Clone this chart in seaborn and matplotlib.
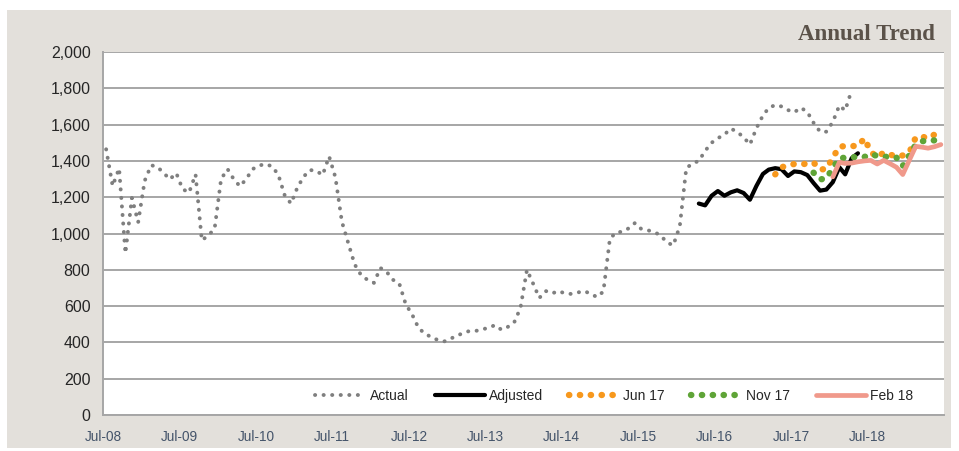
import numpy as np
import pandas as pd
import matplotlib
matplotlib.use("Agg")
import matplotlib.pyplot as plt
from matplotlib.patches import Rectangle
import seaborn as sns

# monthly values, first point is Jul-08 (plotted mid-month)
actual = [1464, 1262, 1359, 891, 1196, 1062, 1290, 1376, 1368, 1335, 1298, 1333,
          1245, 1225, 1326, 962, 990, 1025, 1300, 1355, 1302, 1260, 1300, 1355,
          1374, 1383, 1370, 1325, 1210, 1165, 1255, 1315, 1350, 1345, 1322, 1425,
          1310, 1065, 945, 830, 770, 745, 728, 810, 790, 745, 725, 610,
          555, 480, 447, 430, 413, 405, 420, 438, 450, 463, 463, 472,
          480, 495, 470, 485, 510, 590, 800, 720, 645, 683, 670, 683,
          670, 667, 675, 683, 668, 650, 680, 970, 1005, 1010, 1028, 1058,
          1025, 1018, 1008, 990, 950, 935, 1040, 1360, 1385, 1400, 1455, 1500,
          1525, 1545, 1578, 1560, 1530, 1490, 1580, 1650, 1692, 1708, 1700, 1680,
          1668, 1693, 1670, 1610, 1561, 1561, 1615, 1705, 1678, 1790]
adjusted = [1165, 1155, 1208, 1234, 1208, 1227, 1238, 1223, 1186, 1262, 1328, 1352,
            1360, 1354, 1317, 1342, 1338, 1322, 1278, 1236, 1242, 1283, 1365, 1326,
            1415, 1442]
jun17 = [1326, 1365, 1375, 1383, 1381, 1385, 1391, 1352, 1356, 1418, 1478, 1482,
         1482, 1482, 1524, 1450, 1420, 1446, 1435, 1424, 1430, 1445, 1530, 1535,
         1524, 1545, 1555]
nov17 = [1335, 1298, 1303, 1360, 1414, 1418, 1421, 1420, 1422, 1436, 1428, 1424,
         1420, 1418, 1372, 1430, 1490, 1508, 1512, 1513, 1506]
feb18 = [1312, 1392, 1386, 1388, 1395, 1400, 1403, 1383, 1403, 1385, 1365, 1325,
         1403, 1480, 1476, 1470, 1478, 1490]

start_adjusted = 93
start_jun17 = 105
start_nov17 = 111
start_feb18 = 114

year_ticks = list(range(2008, 2020))
tick_labels = [f"Jul-{y % 100:02d}" for y in range(2008, 2019)] + [""]


def month_dates(first, n):
    d = pd.date_range("2008-07-01", periods=first + n, freq="MS")[first:]
    return d + pd.Timedelta(days=15)


sns.set_style("white")
plt.rcParams["font.family"] = ["Liberation Sans", "DejaVu Sans"]

fig = plt.figure(figsize=(9.59, 4.51), dpi=100, facecolor="white")
# grey panel behind the chart
fig.patches.append(Rectangle((7 / 959, 0.006), 944 / 959, 1 - 10 / 451 - 0.006,
                             transform=fig.transFigure, facecolor="#e3e0db",
                             edgecolor="none", zorder=-10))
ax = fig.add_axes([103 / 959, 1 - 415 / 451, 841 / 959, 363 / 451])
ax.set_zorder(1)
ax.set_facecolor("white")

series = [
    ("Actual", actual, 0, dict(color="#7f7f7f", linewidth=2.8,
                                linestyle=(0, (0.05, 2.15)), dash_capstyle="round")),
    ("Adjusted", adjusted, start_adjusted, dict(color="black", linewidth=3.0)),
    ("Jun 17", jun17, start_jun17, dict(color="#f7981d", linewidth=4.6,
                                        linestyle=(0, (0.05, 1.65)), dash_capstyle="round")),
    ("Nov 17", nov17, start_nov17, dict(color="#5fa437", linewidth=4.6,
                                        linestyle=(0, (0.05, 1.65)), dash_capstyle="round")),
    ("Feb 18", feb18, start_feb18, dict(color="#f0998b", linewidth=3.4)),
]

for name, vals, first, style in series:
    df = pd.DataFrame({"date": month_dates(first, len(vals)), "value": vals})
    sns.lineplot(data=df, x="date", y="value", ax=ax, label=name, **style)

ax.set_ylim(0, 2000)
ax.set_yticks(np.arange(0, 2001, 200))
ax.set_yticklabels([f"{v:,}" for v in range(0, 2001, 200)], fontsize=11.5, color="#262626")
ax.set_xlim(pd.Timestamp("2008-07-01"), pd.Timestamp("2019-07-01"))
ax.set_xticks([pd.Timestamp(f"{y}-07-01") for y in year_ticks])
ax.set_xticklabels(tick_labels, fontsize=9.8, color="#44546a")
ax.set_xlabel("")
ax.set_ylabel("")

ax.grid(axis="y", color="#a6a6a6", linewidth=1.4)
ax.grid(axis="x", visible=False)
ax.set_axisbelow(True)
for side in ["top", "right"]:
    ax.spines[side].set_visible(False)
for side in ["left", "bottom"]:
    ax.spines[side].set_color("#a6a6a6")
    ax.spines[side].set_linewidth(1.4)
ax.tick_params(axis="both", which="major", direction="out", length=5,
               color="#a6a6a6", width=1.2, pad=4)
ax.tick_params(axis="x", pad=6)

handles, labels = ax.get_legend_handles_labels()
ax.legend(handles, labels, loc="center", bbox_to_anchor=(0.608, 0.052), ncol=5,
          frameon=False, fontsize=10, handlelength=3.6, handletextpad=0.3,
          columnspacing=1.9)

fig.text(935 / 959, 1 - 35 / 451, "Annual Trend", ha="right", va="center",
         fontsize=16.5, fontweight="bold", color="#5b5249", family="Liberation Serif")

fig.savefig("out.png", dpi=100, facecolor=fig.get_facecolor())
